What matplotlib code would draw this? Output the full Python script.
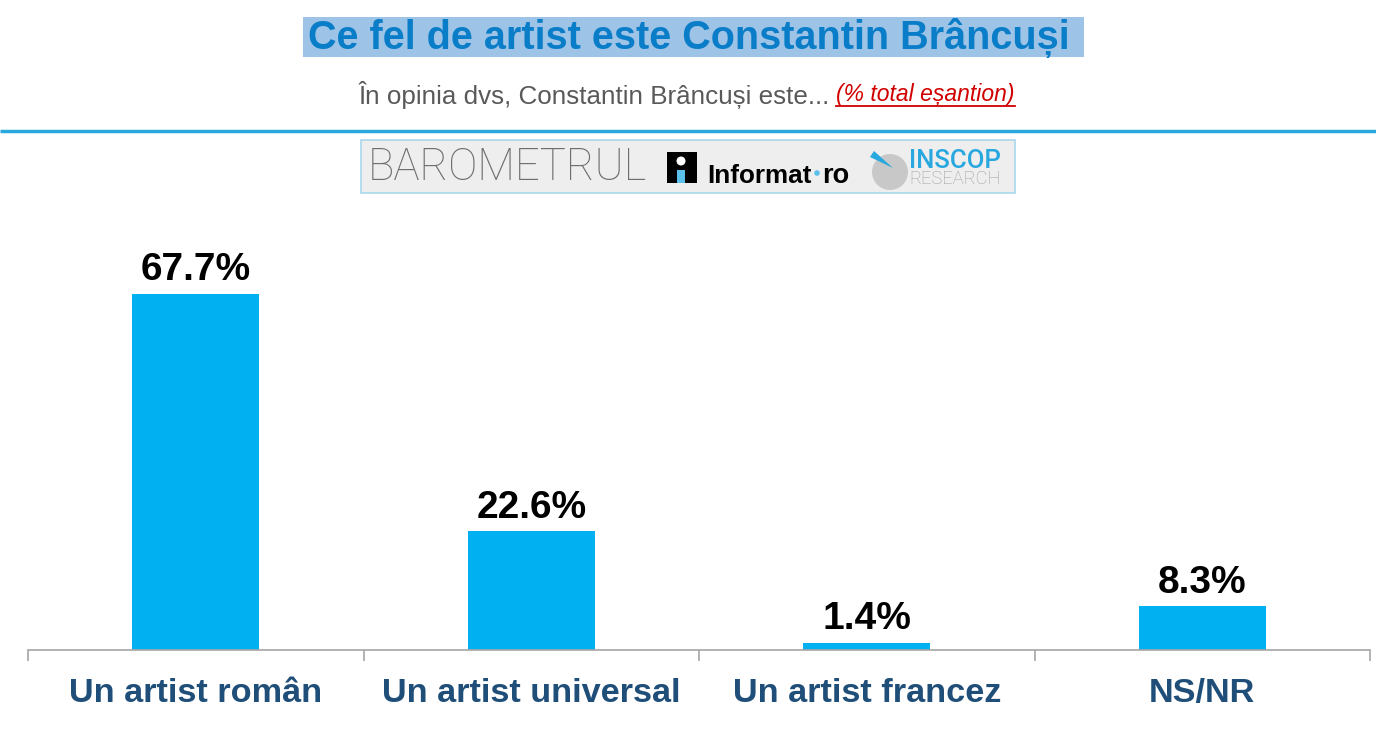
import matplotlib
matplotlib.use("Agg")
import matplotlib.pyplot as plt
from matplotlib.patches import Rectangle, Circle, Polygon

categories = ["Un artist român", "Un artist universal", "Un artist francez", "NS/NR"]
values = [67.7, 22.6, 1.4, 8.3]
value_labels = ["67.7%", "22.6%", "1.4%", "8.3%"]
title = "Ce fel de artist este Constantin Brâncuși"
subtitle = "În opinia dvs, Constantin Brâncuși este..."
subtitle_note = "(% total eșantion)"

plt.rcParams['font.family'] = ['Liberation Sans', 'DejaVu Sans']

W, H = 1376, 750
fig = plt.figure(figsize=(W / 100, H / 100), dpi=100)
fig.patch.set_facecolor("white")

# overlay axes in pixel coordinates (y downwards) for header decorations
ov = fig.add_axes([0, 0, 1, 1])
ov.set_xlim(0, W)
ov.set_ylim(H, 0)
ov.axis("off")

# title with highlight
ov.add_patch(Rectangle((303, 17), 1084 - 303, 40, facecolor="#9DC3E6", edgecolor="none"))
ov.text(689, 38, title, ha="center", va="center", fontsize=28.5, fontweight="bold",
        color="#0A7DC8")

# subtitle
ov.text(830, 95, subtitle, ha="right", va="center", fontsize=18.7, color="#595959")
ov.text(836, 95, subtitle_note, ha="left", va="center", fontsize=16.5, color="#D00000",
        style="italic")
ov.plot([836, 1015], [106, 106], color="#D00000", lw=1.3)

# horizontal rule
ov.plot([0, W], [131, 131], color="#29A8E0", lw=2.5, solid_capstyle="butt")

# logo box
ov.add_patch(Rectangle((361, 140), 1015 - 361, 53, facecolor="#EEEEEE", edgecolor="#A8D8EA", lw=1.2))
ov.text(368, 168, "BAROMETRUL", ha="left", va="center", fontsize=31.5,
        color="#6E6E6E", family=["Roboto", "DejaVu Sans"], fontweight="light")
ov.add_patch(Rectangle((667, 152), 30, 31, facecolor="black", edgecolor="none"))
ov.add_patch(Circle((681, 161), 4.5, facecolor="white", edgecolor="none"))
ov.add_patch(Rectangle((677, 170), 8, 13, facecolor="#5BC0EB", edgecolor="none"))
ov.text(707, 183, "Informat", ha="left", va="baseline", fontsize=18.8, fontweight="bold",
        color="black")
ov.add_patch(Circle((817, 173), 2.8, facecolor="#5BC0EB", edgecolor="none"))
ov.text(822, 183, "ro", ha="left", va="baseline", fontsize=19.5, fontweight="bold",
        color="black")
# INSCOP emblem
ov.add_patch(Circle((890, 172), 18, facecolor="#C8C8C8", edgecolor="none"))
ov.add_patch(Polygon([(870, 157), (874, 151), (893, 168)], closed=True,
                     facecolor="#29A8E0", edgecolor="none"))
ov.text(909, 168, "INSCOP", ha="left", va="baseline", fontsize=18.5, color="#29A8E0",
        family=["Roboto", "DejaVu Sans"], fontweight="medium")
ov.text(909, 184.5, "RESEARCH", ha="left", va="baseline", fontsize=13.2, color="#A0A0A0",
        family=["Roboto", "DejaVu Sans"], fontweight="light")

# chart axes
ax = fig.add_axes([28 / W, 1 - 650 / H, (1370 - 28) / W, 420 / H])
ax.patch.set_alpha(0)
x = range(len(categories))
ax.bar(x, values, width=0.38, color="#00B0F0")
ax.set_xlim(-0.5, len(categories) - 0.5)
ax.set_ylim(0, 79.85)
for i, (v, lab) in enumerate(zip(values, value_labels)):
    ax.annotate(lab, (i, v), xytext=(0, 4), textcoords="offset points",
                ha="center", va="bottom", fontsize=28, fontweight="bold", color="black")
for s in ["top", "right", "left"]:
    ax.spines[s].set_visible(False)
ax.spines["bottom"].set_color("#A6A6A6")
ax.spines["bottom"].set_linewidth(1.2)
ax.set_yticks([])
ax.set_xticks([i - 0.5 for i in range(len(categories) + 1)], minor=False)
ax.set_xticklabels([])
ax.tick_params(axis="x", which="major", length=8, color="#A6A6A6", width=1.2, direction="out")
ax.set_xticks(list(x), minor=True)
ax.set_xticklabels(categories, minor=True)
ax.tick_params(axis="x", which="minor", length=0, pad=20, labelsize=24.7, labelcolor="#1F4E79")
for t in ax.get_xticklabels(minor=True):
    t.set_fontweight("bold")

fig.savefig("out.png", dpi=100, facecolor="white")
